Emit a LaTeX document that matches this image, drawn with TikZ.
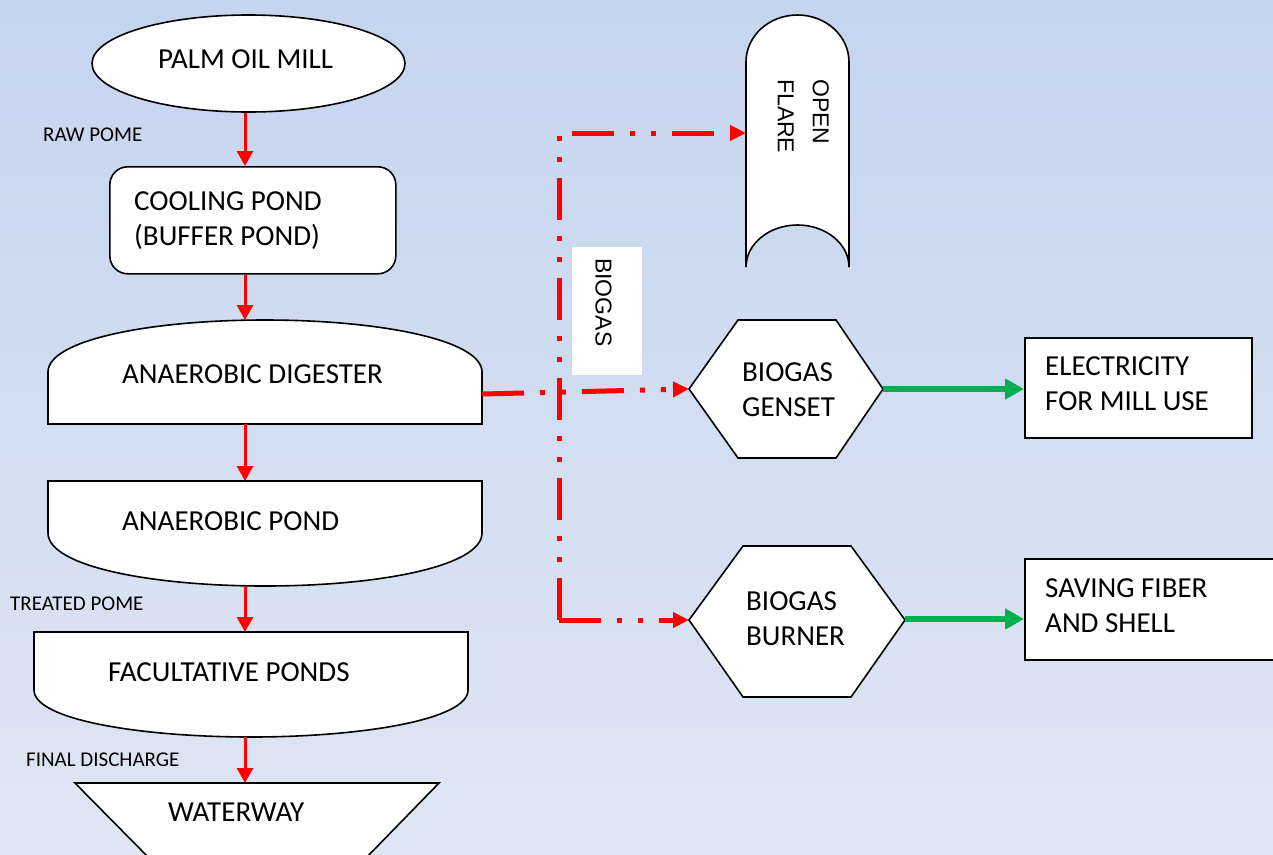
\documentclass[tikz,border=0pt]{standalone}
\usepackage{fontspec}
\setmainfont{Carlito}
\newfontfamily\arialfont{Liberation Sans}
\usetikzlibrary{arrows.meta,shapes.geometric}
\definecolor{bgtop}{RGB}{197,213,238}
\definecolor{bgbot}{RGB}{222,230,244}
\definecolor{flowred}{RGB}{255,0,0}
\definecolor{flowgreen}{RGB}{0,176,80}
\begin{document}
\begin{tikzpicture}[x=1pt,y=-1pt,
  shapeline/.style={draw=black, line width=1.6pt, fill=white},
  bigtxt/.style={font=\fontsize{29}{35}\selectfont, inner sep=0pt, align=left, anchor=north west},
  smalltxt/.style={font=\fontsize{21}{25}\selectfont, inner sep=0pt, anchor=north west},
  rottxt/.style={font=\arialfont\fontsize{23}{35}\selectfont, inner sep=0pt, align=left, rotate=-90, anchor=north west},
  flow/.style={draw=flowred, line width=3pt, -{Triangle[length=15pt,width=16pt]}},
  gas/.style={draw=flowred, line width=5pt, dash pattern=on 42pt off 16pt on 5pt off 16pt on 5pt off 16pt, -{Triangle[length=16pt,width=15pt]}},
  power/.style={draw=flowgreen, line width=6pt, -{Triangle[length=19pt,width=20pt]}}]
\useasboundingbox (0,0) rectangle (1273,854);
\shade[top color=bgtop, bottom color=bgbot] (0,0) rectangle (1273,854);
\begin{scope}
\clip (0,0) rectangle (1273,854);

% ---------- left column shapes ----------
\node[shapeline, ellipse, minimum width=313pt, minimum height=97pt, inner sep=0pt] (mill) at (248.5,63.5) {};
\node[bigtxt] (milltxt) at (158,49) {PALM OIL MILL};

\node[shapeline, rounded corners=18pt, minimum width=286pt, minimum height=107pt, anchor=north west] (cool) at (109,166) {};
\node[bigtxt] (cooltxt) at (134,191) {COOLING POND\\(BUFFER POND)};

\path[shapeline] (48,424) -- (48,372) .. controls (48,340) and (150,320) .. (265,320)
   .. controls (380,320) and (482,340) .. (482,372) -- (482,424) -- cycle;
\coordinate (dig-n) at (245,320);
\coordinate (dig-s) at (245,424);
\coordinate (dig-e) at (482,394);
\node[bigtxt] (digtxt) at (122,364) {ANAEROBIC DIGESTER};

\path[shapeline] (48,481) -- (482,481) -- (482,533) .. controls (482,566) and (380,586) .. (265,586)
   .. controls (150,586) and (48,566) .. (48,533) -- cycle;
\coordinate (apond-n) at (245,481);
\coordinate (apond-s) at (245,586);
\node[bigtxt] (apondtxt) at (122,511) {ANAEROBIC POND};

\path[shapeline] (34,632) -- (468,632) -- (468,690) .. controls (468,720) and (360,737) .. (251,737)
   .. controls (142,737) and (34,720) .. (34,690) -- cycle;
\coordinate (fac-n) at (245,632);
\coordinate (fac-s) at (245,737);
\node[bigtxt] (factxt) at (108,662) {FACULTATIVE PONDS};

\path[shapeline] (151,860) -- (75,783) -- (439,783) -- (364,860);
\coordinate (water-n) at (245,783);
\node[bigtxt] (watertxt) at (168,803) {WATERWAY};

% ---------- small labels ----------
\node[smalltxt] (raw) at (43,128) {RAW POME};
\node[smalltxt] (treated) at (10,597) {TREATED POME};
\node[smalltxt] (final) at (26,753) {FINAL DISCHARGE};

% ---------- left column arrows ----------
\draw[flow] (dig-n |- mill.south) -- (dig-n |- cool.north);
\draw[flow] (dig-n |- cool.south) -- (dig-n);
\draw[flow] (dig-s) -- (apond-n);
\draw[flow] (apond-s) -- (fac-n);
\draw[flow] (fac-s) -- (water-n);

% ---------- open flare ----------
\path[shapeline] (746,267) -- (746,62) .. controls (746,36) and (769,15) .. (797.5,15)
   .. controls (826,15) and (849,36) .. (849,62) -- (849,267)
   .. controls (849,244) and (826,225) .. (797.5,225)
   .. controls (769,225) and (746,244) .. (746,267);
\coordinate (flare-w) at (746,133);
\node[rottxt] (flaretxt) at (829,79) {OPEN\\FLARE};

% ---------- biogas label ----------
\fill[white] (572,247) rectangle (642,375);
\node[rottxt] (biogastxt) at (612,258) {BIOGAS};

% ---------- hexagons ----------
\path[shapeline] (689,389) -- (738,320) -- (836,320) -- (883,389) -- (836,458) -- (738,458) -- cycle;
\coordinate (genset-w) at (689,389);
\coordinate (genset-e) at (883,389);
\node[bigtxt] (gensettxt) at (742,362) {BIOGAS\\GENSET};

\path[shapeline] (689,620) -- (743,546) -- (851,546) -- (905,620) -- (851,697) -- (743,697) -- cycle;
\coordinate (burner-w) at (689,620);
\coordinate (burner-e) at (905,619);
\node[bigtxt] (burnertxt) at (746,591) {BIOGAS\\BURNER};

% ---------- output boxes ----------
\node[shapeline, minimum width=227pt, minimum height=100pt, anchor=north west, inner sep=0pt] (elec) at (1024,337) {};
\node[bigtxt] (electxt) at (1045,356) {ELECTRICITY\\FOR MILL USE};
\node[shapeline, minimum width=260pt, minimum height=101pt, anchor=north west, inner sep=0pt] (save) at (1024,558) {};
\node[bigtxt] (savetxt) at (1045,578) {SAVING FIBER\\AND SHELL};

% ---------- biogas lines ----------
\coordinate (jt) at (559,133);
\coordinate (jb) at (559,620);
\draw[gas] (dig-e) -- (genset-w);
\draw[gas] (jb) -- (jt) -- (flare-w);
\draw[gas] (jb) -- (burner-w);

% ---------- green arrows ----------
\draw[power] (genset-e) -- (genset-e -| elec.west);
\draw[power] (burner-e) -- (burner-e -| save.west);
\end{scope}
\end{tikzpicture}
\end{document}
